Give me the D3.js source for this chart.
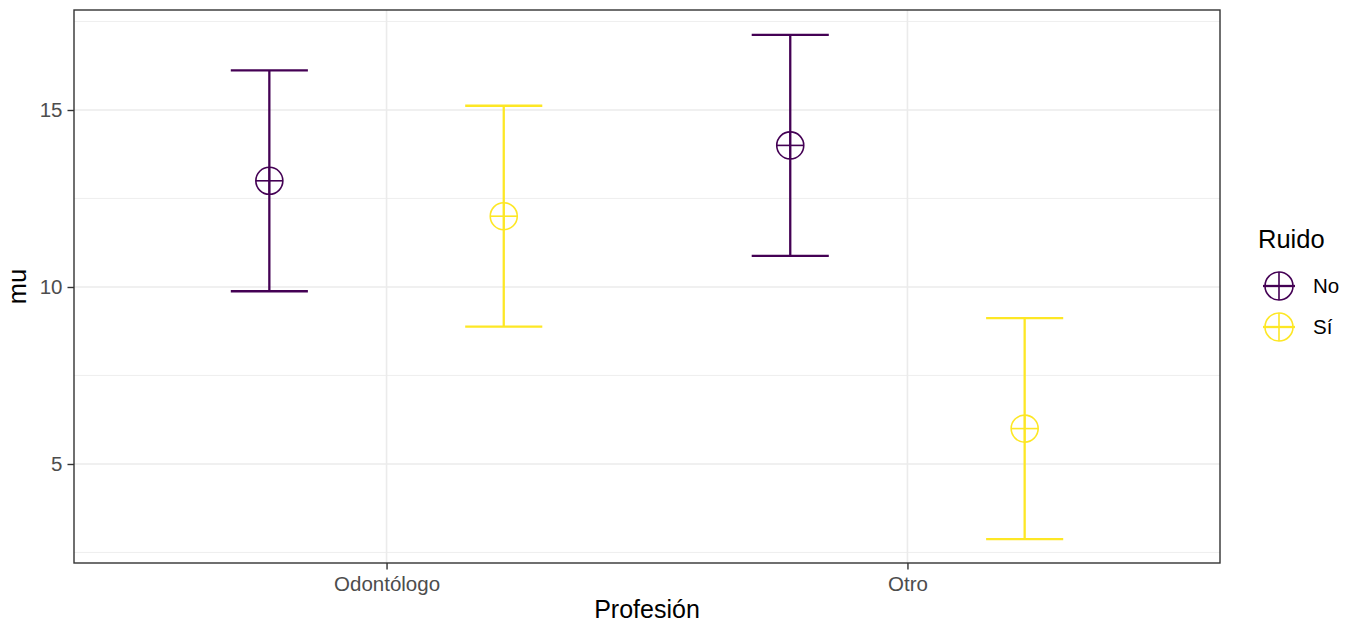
<!DOCTYPE html>
<html>
<head>
<meta charset="utf-8">
<script src="https://cdn.jsdelivr.net/npm/d3@7"></script>
<style>
  body { margin: 0; background: #fff; }
  text { font-family: "Liberation Sans", Arial, sans-serif; }
</style>
</head>
<body>
<svg id="chart" width="1352" height="624"></svg>
<script>
// Estimated means with 95% intervals, by profession and noise condition
const profesiones = ["Odontólogo", "Otro"];
const ruidos = ["No", "Sí"];
const profesion = ["Odontólogo", "Odontólogo", "Otro", "Otro"];
const ruido     = ["No", "Sí", "No", "Sí"];
const mu        = [13, 12, 14, 6];
const lower     = [9.88, 8.88, 10.88, 2.88];
const upper     = [16.12, 15.12, 17.12, 9.12];
const yTicks = [5, 10, 15];
const yMinor = [2.5, 7.5, 12.5, 17.5];

const colores = { "No": "#440154", "Sí": "#FDE725" };

const data = mu.map((m, i) => ({ profesion: profesion[i], ruido: ruido[i], mu: m, lo: lower[i], hi: upper[i] }));

const svg = d3.select("#chart");
const panel = { left: 74, right: 1220, top: 10, bottom: 563 };

// Discrete x positions: categories at 1..n with 0.6 expansion
const xc = d3.scaleLinear().domain([0.4, profesiones.length + 0.6]).range([panel.left, panel.right]);
const catIndex = d => profesiones.indexOf(d) + 1;
const dodgeW = 0.9;
const dodge = r => (ruidos.indexOf(r) - (ruidos.length - 1) / 2) * (dodgeW / ruidos.length);
const capHalf = 0.074;

const y = d3.scaleLinear().domain([2.203, 17.825]).range([panel.bottom, panel.top]);

const g = svg.append("g");

// grid
g.selectAll(".minor").data(yMinor).join("line")
  .attr("x1", panel.left).attr("x2", panel.right)
  .attr("y1", d => y(d)).attr("y2", d => y(d))
  .attr("stroke", "#ebebeb").attr("stroke-width", 0.8);
g.selectAll(".major").data(yTicks).join("line")
  .attr("x1", panel.left).attr("x2", panel.right)
  .attr("y1", d => y(d)).attr("y2", d => y(d))
  .attr("stroke", "#ebebeb").attr("stroke-width", 1.6);
g.selectAll(".vmajor").data(profesiones).join("line")
  .attr("y1", panel.top).attr("y2", panel.bottom)
  .attr("x1", d => xc(catIndex(d))).attr("x2", d => xc(catIndex(d)))
  .attr("stroke", "#ebebeb").attr("stroke-width", 1.6);

// error bars
const eb = g.selectAll(".eb").data(data).join("g")
  .attr("stroke", d => colores[d.ruido]).attr("stroke-width", 2.3).attr("fill", "none");
eb.append("line")
  .attr("x1", d => xc(catIndex(d.profesion) + dodge(d.ruido)))
  .attr("x2", d => xc(catIndex(d.profesion) + dodge(d.ruido)))
  .attr("y1", d => y(d.lo)).attr("y2", d => y(d.hi));
eb.append("line")
  .attr("x1", d => xc(catIndex(d.profesion) + dodge(d.ruido) - capHalf))
  .attr("x2", d => xc(catIndex(d.profesion) + dodge(d.ruido) + capHalf))
  .attr("y1", d => y(d.hi)).attr("y2", d => y(d.hi));
eb.append("line")
  .attr("x1", d => xc(catIndex(d.profesion) + dodge(d.ruido) - capHalf))
  .attr("x2", d => xc(catIndex(d.profesion) + dodge(d.ruido) + capHalf))
  .attr("y1", d => y(d.lo)).attr("y2", d => y(d.lo));

// circled-plus point symbol
function circlePlus(sel, r, sw) {
  sel.append("circle").attr("r", r).attr("fill", "none").attr("stroke-width", sw);
  sel.append("line").attr("x1", -r).attr("x2", r).attr("y1", 0).attr("y2", 0).attr("stroke-width", sw);
  sel.append("line").attr("y1", -r).attr("y2", r).attr("x1", 0).attr("x2", 0).attr("stroke-width", sw);
}
const pts = g.selectAll(".pt").data(data).join("g")
  .attr("transform", d => `translate(${xc(catIndex(d.profesion) + dodge(d.ruido))},${y(d.mu)})`)
  .attr("stroke", d => colores[d.ruido]);
pts.each(function() { circlePlus(d3.select(this), 13.5, 1.6); });

// panel border
g.append("rect")
  .attr("x", panel.left).attr("y", panel.top)
  .attr("width", panel.right - panel.left).attr("height", panel.bottom - panel.top)
  .attr("fill", "none").attr("stroke", "#333333").attr("stroke-width", 1.4);

// axes
const yAxis = d3.axisLeft(y).tickValues(yTicks).tickSize(6.5).tickPadding(5);
const ya = svg.append("g").attr("transform", `translate(${panel.left},0)`).call(yAxis);
const xAxis = d3.axisBottom(d3.scaleOrdinal().domain(profesiones).range(profesiones.map(p => xc(catIndex(p)))))
  .tickSize(6.5).tickPadding(6);
const xa = svg.append("g").attr("transform", `translate(0,${panel.bottom})`).call(xAxis);
[ya, xa].forEach(a => {
  a.select(".domain").remove();
  a.selectAll(".tick line").attr("stroke", "#333333").attr("stroke-width", 1.4);
  a.selectAll(".tick text").attr("fill", "#4d4d4d").style("font-size", "20.5px")
    .style("font-family", "'Liberation Sans', Arial, sans-serif");
});
xa.selectAll(".tick text").attr("dy", "0.75em");

// axis titles
svg.append("text").attr("x", (panel.left + panel.right) / 2).attr("y", 618)
  .attr("text-anchor", "middle").style("font-size", "25px").attr("fill", "#000").text("Profesión");
svg.append("text").attr("transform", `translate(26,${(panel.top + panel.bottom) / 2}) rotate(-90)`)
  .attr("text-anchor", "middle").style("font-size", "25.5px").attr("fill", "#000").text("mu");

// legend
const lg = svg.append("g").attr("transform", "translate(1258,0)");
lg.append("text").attr("x", 0).attr("y", 248).style("font-size", "25.5px").attr("fill", "#000").text("Ruido");
ruidos.forEach((r, i) => {
  const cy = 286 + i * 41;
  const item = lg.append("g").attr("transform", `translate(21,${cy})`).attr("stroke", colores[r]);
  circlePlus(item, 14, 1.6);
  item.append("line").attr("x1", -16).attr("x2", 16).attr("y1", 0).attr("y2", 0).attr("stroke-width", 2.3);
  lg.append("text").attr("x", 55).attr("y", cy + 7).style("font-size", "20.5px").attr("fill", "#000").text(r);
});
</script>
</body>
</html>
